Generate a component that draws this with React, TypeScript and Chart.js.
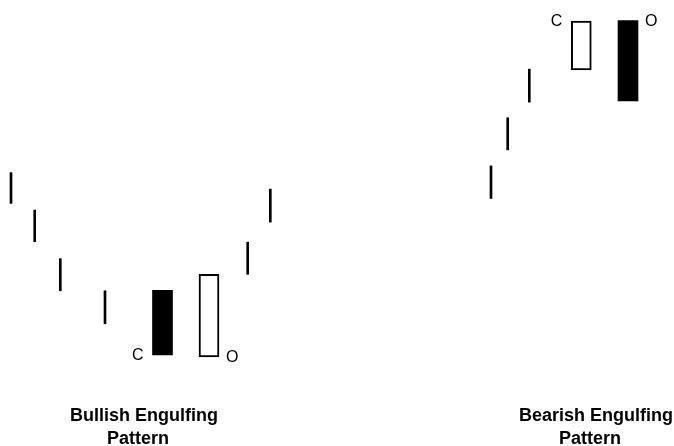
import React, { useEffect, useRef } from "react";
import { Chart, registerables } from "chart.js";

Chart.register(...registerables);

// Simple price bars (high-low lines)
const lineDays = [1.1, 3.47, 6.03, 10.5, 24.77, 27.03, 49.1, 50.77, 52.93];
const lineHighs = [61.3, 52.9, 42.0, 34.8, 45.7, 57.6, 62.8, 73.6, 84.5];
const lineLows = [54.4, 45.8, 34.8, 27.4, 38.5, 50.2, 55.5, 66.4, 77.1];

// Candle bodies
const candleDays = [16.25, 20.9, 58.13, 62.8];
const candleOpens = [34.9, 20.0, 84.3, 95.4];
const candleCloses = [20.4, 38.5, 95.3, 77.4];
const candleMarks = ["C", "O", "C", "O"];

// Pattern captions
const patternNames = ["Bullish Engulfing", "Bearish Engulfing"];
const patternCaptionDays = [14.1, 59.3];
const captionSecondLine = "Pattern";

const FONT = '"Liberation Sans", Arial, Helvetica, sans-serif';

const annotatePlugin = {
  id: "annotate",
  afterDatasetsDraw(chart: any) {
    const ctx = chart.ctx as CanvasRenderingContext2D;
    const xs = chart.scales.x;
    const ys = chart.scales.y;
    const area = chart.chartArea;
    ctx.save();
    ctx.fillStyle = "#000";
    ctx.font = "16px " + FONT;
    ctx.textBaseline = "middle";
    const half = 10;
    candleDays.forEach((d, i) => {
      const mark = candleMarks[i];
      const v = mark === "C" ? candleCloses[i] : candleOpens[i];
      const cx = xs.getPixelForValue(d);
      const py = ys.getPixelForValue(v) + 1;
      if (mark === "C") {
        ctx.textAlign = "right";
        ctx.fillText(mark, cx - half - 9, py);
      } else {
        ctx.textAlign = "left";
        ctx.fillText(mark, cx + half + 7, py);
      }
    });
    ctx.font = "bold 18px " + FONT;
    ctx.textAlign = "center";
    ctx.textBaseline = "alphabetic";
    patternNames.forEach((name, i) => {
      const cx = xs.getPixelForValue(patternCaptionDays[i]);
      ctx.fillText(name, cx + 3, area.bottom - 25);
      ctx.fillText(captionSecondLine, cx - 3, area.bottom - 2);
    });
    ctx.restore();
  },
};

export default function App() {
  const canvasRef = useRef<HTMLCanvasElement | null>(null);

  useEffect(() => {
    const canvas = canvasRef.current;
    if (!canvas) return;
    const lineData = lineDays.map((d, i) => ({ x: d, y: [lineLows[i], lineHighs[i]] }));
    const blackData: any[] = [];
    const whiteData: any[] = [];
    candleDays.forEach((d, i) => {
      const pt = { x: d, y: [candleOpens[i], candleCloses[i]] };
      if (candleCloses[i] < candleOpens[i]) blackData.push(pt);
      else whiteData.push(pt);
    });
    const chart = new Chart(canvas, {
      type: "bar",
      data: {
        datasets: [
          {
            label: "Price range",
            data: lineData as any,
            backgroundColor: "#000",
            borderWidth: 0,
            barThickness: 2,
            grouped: false,
          } as any,
          {
            label: "Black candle",
            data: blackData,
            backgroundColor: "#000",
            borderColor: "#000",
            borderWidth: 0,
            barThickness: 20,
            grouped: false,
          } as any,
          {
            label: "White candle",
            data: whiteData,
            backgroundColor: "#fff",
            borderColor: "#000",
            borderWidth: 2,
            borderSkipped: false,
            barThickness: 20,
            grouped: false,
          } as any,
        ],
      },
      options: {
        responsive: false,
        animation: false,
        layout: { padding: 0 },
        plugins: {
          legend: { display: false },
          tooltip: { enabled: false },
          title: { display: false },
        },
        scales: {
          x: { type: "linear", min: 0, max: 67.4, offset: false, display: false },
          y: { type: "linear", min: 0, max: 100, display: false },
        },
      },
      plugins: [annotatePlugin],
    });
    return () => chart.destroy();
  }, []);

  return (
    <div style={{ position: "fixed", left: 0, top: 0, width: 674, height: 446, background: "#fff" }}>
      <canvas ref={canvasRef} width={674} height={446} style={{ display: "block", width: 674, height: 446 }} />
    </div>
  );
}
